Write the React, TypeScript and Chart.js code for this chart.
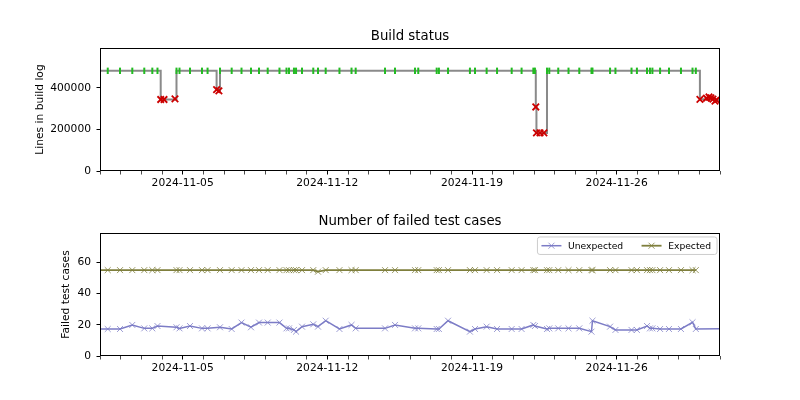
import React, { useEffect, useRef } from 'react';
import { Chart, registerables } from 'chart.js';

Chart.register(...registerables);

// ---------- data ----------
const buildTimes = [
  '2024-10-31T15:00', '2024-11-01T09:00', '2024-11-01T23:15', '2024-11-02T13:30', '2024-11-03T03:25',
  '2024-11-03T12:45', '2024-11-03T18:45', '2024-11-03T22:30', '2024-11-04T02:20', '2024-11-04T15:05',
  '2024-11-04T16:50', '2024-11-04T20:20', '2024-11-05T08:30', '2024-11-05T22:25', '2024-11-06T04:55',
  '2024-11-06T15:25', '2024-11-06T18:05', '2024-11-06T19:20', '2024-11-07T08:55', '2024-11-07T20:20',
  '2024-11-08T07:20', '2024-11-08T16:40', '2024-11-09T02:45', '2024-11-09T16:25', '2024-11-10T00:35',
  '2024-11-10T03:30', '2024-11-10T09:15', '2024-11-10T11:40', '2024-11-10T18:35', '2024-11-11T07:40',
  '2024-11-11T13:10', '2024-11-11T22:05', '2024-11-12T14:05', '2024-11-13T04:05', '2024-11-13T08:55',
  '2024-11-14T19:00', '2024-11-15T06:35', '2024-11-16T05:50', '2024-11-16T09:35', '2024-11-17T07:00',
  '2024-11-17T09:35', '2024-11-17T20:10', '2024-11-18T21:35', '2024-11-19T03:30', '2024-11-19T17:00',
  '2024-11-20T05:05', '2024-11-20T22:05', '2024-11-21T09:35', '2024-11-21T23:15', '2024-11-22T01:05',
  '2024-11-22T02:05', '2024-11-22T02:50', '2024-11-22T07:00', '2024-11-22T11:30', '2024-11-22T15:05',
  '2024-11-22T17:45', '2024-11-23T04:10', '2024-11-23T16:05', '2024-11-24T04:35', '2024-11-24T18:45',
  '2024-11-24T19:55', '2024-11-25T16:20', '2024-11-25T22:35', '2024-11-26T17:15', '2024-11-26T23:30',
  '2024-11-27T11:15', '2024-11-27T14:40', '2024-11-27T17:30', '2024-11-28T02:25', '2024-11-28T12:45',
  '2024-11-29T02:40', '2024-11-29T16:05', '2024-11-29T19:55', '2024-11-30T00:40', '2024-11-30T08:15',
  '2024-11-30T11:15', '2024-11-30T13:30', '2024-11-30T15:50', '2024-11-30T18:10', '2024-11-30T19:55',
  '2024-12-01T06:00', '2024-12-02T06:00',
];

const buildStatus = [
  'ok', 'ok', 'ok', 'ok', 'ok', 'ok', 'ok', 'fail', 'fail', 'fail',
  'ok', 'ok', 'ok', 'ok', 'ok', 'fail', 'fail', 'ok', 'ok', 'ok',
  'ok', 'ok', 'ok', 'ok', 'ok', 'ok', 'ok', 'ok', 'ok', 'ok',
  'ok', 'ok', 'ok', 'ok', 'ok', 'ok', 'ok', 'ok', 'ok', 'ok',
  'ok', 'ok', 'ok', 'ok', 'ok', 'ok', 'ok', 'ok', 'ok', 'ok',
  'fail', 'fail', 'fail', 'fail', 'ok', 'ok', 'ok', 'ok', 'ok', 'ok',
  'ok', 'ok', 'ok', 'ok', 'ok', 'ok', 'ok', 'ok', 'ok', 'ok',
  'ok', 'ok', 'ok', 'fail', 'fail', 'fail', 'fail', 'fail', 'fail', 'fail',
  'fail', 'ok',
];

const buildLines = [
  482000, 482000, 482000, 482000, 482000, 482000, 482000, 344000, 344000, 347000,
  482000, 482000, 482000, 482000, 482000, 392000, 386000, 482000, 482000, 482000,
  482000, 482000, 482000, 482000, 482000, 482000, 482000, 482000, 482000, 482000,
  482000, 482000, 482000, 482000, 482000, 482000, 482000, 482000, 482000, 482000,
  482000, 482000, 482000, 482000, 482000, 482000, 482000, 482000, 482000, 482000,
  308000, 183000, 183000, 183000, 482000, 482000, 482000, 482000, 482000, 482000,
  482000, 482000, 482000, 482000, 482000, 482000, 482000, 482000, 482000, 482000,
  482000, 482000, 482000, 345000, 350000, 356000, 352000, 346000, 336000, 342000,
  339000, 482000,
];

const unexpectedFailures = [
  17.3, 17.3, 17.3, 19.9, 17.7, 17.7, 19.2, null, null, null,
  18.4, 17.7, 19.2, 17.7, 17.7, null, null, 18.4, 17.3, 21.4,
  18.4, 21.4, 21.4, 21.4, 17.7, 17.7, 16.7, 15.6, 18.8, 20.3,
  18.8, 22.6, 17.3, 19.9, 17.7, 17.7, 19.9, 17.7, 17.7, 17.3,
  17.3, 22.6, 15.6, 17.3, 18.8, 17.3, 17.3, 17.3, 19.9, 19.2,
  null, null, null, null, 17.3, 17.7, 17.7, 17.7, 17.7, 15.6,
  22.6, 18.8, 16.7, 16.7, 16.7, 19.2, 17.7, 17.7, 17.3, 17.3,
  17.3, 21.6, 17.3, null, null, null, null, null, null, null,
  null, 17.7,
];

const expectedFailures = [
  55, 55, 55, 55, 55, 55, 55, null, null, null,
  55, 55, 55, 55, 55, null, null, 55, 55, 55,
  55, 55, 55, 55, 55, 55, 55, 55, 55, 55,
  54, 55, 55, 55, 55, 55, 55, 55, 55, 55,
  55, 55, 55, 55, 55, 55, 55, 55, 55, 55,
  null, null, null, null, 55, 55, 55, 55, 55, 55,
  55, 55, 55, 55, 55, 55, 55, 55, 55, 55,
  55, 55, 55, null, null, null, null, null, null, null,
  null, null,
];

const xRange = ['2024-11-01T00:00', '2024-12-01T00:00'];
const majorTickLabels = ['2024-11-05', '2024-11-12', '2024-11-19', '2024-11-26'];
const buildAxisTicks = [0, 200000, 400000];
const testAxisTicks = [0, 20, 40, 60];
const buildAxisMax = 592000;
const testAxisMax = 78.8;

// ---------- helpers ----------
const FONT = 'DejaVu Sans';
const xMin = Date.parse(xRange[0]);
const xMax = Date.parse(xRange[1]);

const fmtDate = (v: number) => {
  const d = new Date(v);
  const mm = String(d.getMonth() + 1).padStart(2, '0');
  const dd = String(d.getDate()).padStart(2, '0');
  return `${d.getFullYear()}-${mm}-${dd}`;
};

const dayTicks: number[] = (() => {
  const out: number[] = [];
  const s = new Date(xMin);
  for (let i = 0; ; i++) {
    const t = new Date(s.getFullYear(), s.getMonth(), s.getDate() + i).getTime();
    if (t > xMax) break;
    out.push(t);
  }
  return out;
})();
const majorSet = new Set(majorTickLabels);

const frame = {
  id: 'mplFrame',
  afterDraw(chart: any) {
    const { ctx, chartArea: a } = chart;
    ctx.save();
    ctx.strokeStyle = '#000';
    ctx.lineWidth = 1;
    ctx.strokeRect(Math.round(a.left) + 0.5, Math.round(a.top) + 0.5, Math.round(a.right - a.left) - 1, Math.round(a.bottom - a.top) - 1);
    ctx.restore();
  },
};

const mplLegend = {
  id: 'mplLegend',
  afterDraw(chart: any) {
    const { ctx, chartArea } = chart;
    const items = chart.data.datasets.map((ds: any) => ({
      label: ds.label, line: ds.borderColor, mark: ds.pointBorderColor, lw: ds.borderWidth,
    }));
    ctx.save();
    ctx.font = `9.2px "${FONT}"`;
    const padL = 4, handle = 20, gapText = 6.6, colGap = 18.4, padR = 6, h = 17.5;
    const widths = items.map((it: any) => ctx.measureText(it.label).width);
    let totalW = padL + padR + colGap * (items.length - 1);
    items.forEach((_: any, i: number) => { totalW += handle + gapText + widths[i]; });
    const x0 = chartArea.right - 3 - totalW;
    const y0 = chartArea.top + 4;
    const r = 2.5;
    ctx.beginPath();
    ctx.moveTo(x0 + r, y0);
    ctx.lineTo(x0 + totalW - r, y0);
    ctx.arcTo(x0 + totalW, y0, x0 + totalW, y0 + r, r);
    ctx.lineTo(x0 + totalW, y0 + h - r);
    ctx.arcTo(x0 + totalW, y0 + h, x0 + totalW - r, y0 + h, r);
    ctx.lineTo(x0 + r, y0 + h);
    ctx.arcTo(x0, y0 + h, x0, y0 + h - r, r);
    ctx.lineTo(x0, y0 + r);
    ctx.arcTo(x0, y0, x0 + r, y0, r);
    ctx.closePath();
    ctx.fillStyle = 'rgba(255,255,255,0.8)';
    ctx.fill();
    ctx.strokeStyle = '#cccccc';
    ctx.lineWidth = 1;
    ctx.stroke();
    let x = x0 + padL;
    const cy = y0 + h / 2;
    items.forEach((it: any, i: number) => {
      ctx.strokeStyle = it.line;
      ctx.lineWidth = it.lw;
      ctx.beginPath();
      ctx.moveTo(x, cy);
      ctx.lineTo(x + handle, cy);
      ctx.stroke();
      const mx = x + handle / 2;
      const m = 3;
      ctx.strokeStyle = it.mark;
      ctx.lineWidth = 1;
      ctx.beginPath();
      ctx.moveTo(mx - m, cy - m); ctx.lineTo(mx + m, cy + m);
      ctx.moveTo(mx - m, cy + m); ctx.lineTo(mx + m, cy - m);
      ctx.stroke();
      ctx.fillStyle = '#000';
      ctx.textBaseline = 'middle';
      ctx.textAlign = 'left';
      ctx.fillText(it.label, x + handle + gapText, cy + 0.5);
      x += handle + gapText + widths[i] + colGap;
    });
    ctx.restore();
  },
};

const xScale = (height: number) => ({
  type: 'linear',
  min: xMin,
  max: xMax,
  bounds: 'data',
  afterBuildTicks: (s: any) => { s.ticks = dayTicks.map((v) => ({ value: v })); },
  afterFit: (s: any) => { s.height = height; },
  ticks: {
    autoSkip: false,
    maxRotation: 0,
    minRotation: 0,
    padding: 2,
    color: '#000',
    font: { family: FONT, size: 10.7 },
    callback: (v: number) => (majorSet.has(fmtDate(v)) ? fmtDate(v) : ''),
  },
  grid: {
    drawOnChartArea: false,
    drawTicks: true,
    tickLength: 3.5,
    tickColor: '#000',
    tickWidth: (c: any) => (c.tick && majorSet.has(fmtDate(c.tick.value)) ? 1 : 0.7),
  },
  border: { display: false },
});

// left axis: occupies 80px after a 20px layout padding -> plot area starts at x=100
const yScale = (max: number, ticks: number[], title: string, titlePad: number) => ({
  type: 'linear',
  position: 'left',
  min: 0,
  max,
  bounds: 'data',
  afterBuildTicks: (s: any) => { s.ticks = ticks.map((v) => ({ value: v })); },
  afterFit: (s: any) => { s.width = 80; },
  ticks: {
    padding: 5.5,
    color: '#000',
    font: { family: FONT, size: 10.7 },
    callback: (v: number) => String(v),
  },
  grid: { drawOnChartArea: false, drawTicks: true, tickLength: 3.5, tickColor: '#000', tickWidth: 1 },
  border: { display: false },
  title: {
    display: true,
    text: title,
    color: '#000',
    font: { family: FONT, size: 10.7 },
    padding: { top: titlePad, bottom: 0 },
  },
});

// empty right-hand spacer axis (80px) so the title centres over the plot area
const spacerScale = (max: number) => ({
  type: 'linear',
  position: 'right',
  min: 0,
  max,
  display: true,
  afterFit: (s: any) => { s.width = 80; },
  ticks: { display: false },
  grid: { display: false },
  border: { display: false },
});

export default function App() {
  const topRef = useRef<HTMLCanvasElement>(null);
  const botRef = useRef<HTMLCanvasElement>(null);

  useEffect(() => {
    Chart.defaults.font.family = FONT;
    const isOk = (i: number) => buildStatus[i] === 'ok';
    const buildPoints = buildTimes.map((t, i) => ({ x: Date.parse(t), y: buildLines[i] }));

    const top = new Chart(topRef.current as HTMLCanvasElement, {
      type: 'line',
      data: {
        datasets: [
          {
            label: 'Build',
            data: buildPoints,
            yAxisID: 'y',
            borderColor: '#8a8a8a',
            borderWidth: 2,
            stepped: true,
            clip: 0,
            pointStyle: (c: any) => (isOk(c.dataIndex) ? 'line' : 'crossRot'),
            pointRotation: (c: any) => (isOk(c.dataIndex) ? 90 : 0),
            pointRadius: (c: any) => (isOk(c.dataIndex) ? 3.2 : 4.6),
            pointBorderWidth: (c: any) => (isOk(c.dataIndex) ? 2 : 1.8),
            pointBorderColor: (c: any) => (isOk(c.dataIndex) ? '#22bb22' : '#cc0000'),
            pointBackgroundColor: (c: any) => (isOk(c.dataIndex) ? '#22bb22' : '#cc0000'),
          } as any,
        ],
      },
      options: {
        animation: false,
        responsive: false,
        devicePixelRatio: 1,
        layout: { padding: { left: 20, right: 0, top: 0, bottom: 0 } },
        plugins: {
          legend: { display: false },
          tooltip: { enabled: false },
          title: {
            display: true,
            text: 'Build status',
            color: '#000',
            font: { family: FONT, size: 13.3, weight: 'normal' },
            padding: { top: 28.5, bottom: 3.5 },
          },
        },
        scales: {
          x: xScale(29) as any,
          y: yScale(buildAxisMax, buildAxisTicks, 'Lines in build log', 13.6) as any,
          yRight: spacerScale(buildAxisMax) as any,
        },
      },
      plugins: [frame],
    });

    const pts = (arr: (number | null)[]) =>
      buildTimes.map((t, i) => ({ x: Date.parse(t), y: arr[i] })).filter((p) => p.y !== null);

    const bot = new Chart(botRef.current as HTMLCanvasElement, {
      type: 'line',
      data: {
        datasets: [
          {
            label: 'Unexpected',
            data: pts(unexpectedFailures),
            yAxisID: 'y',
            borderColor: '#7c7cc6',
            borderWidth: 1.5,
            clip: 0,
            pointStyle: 'crossRot',
            pointRadius: 4.2,
            pointBorderWidth: 1,
            pointBorderColor: 'rgba(124,124,198,0.75)',
            pointBackgroundColor: 'rgba(124,124,198,0.75)',
          } as any,
          {
            label: 'Expected',
            data: pts(expectedFailures),
            yAxisID: 'y',
            borderColor: '#7f7f3d',
            borderWidth: 1.8,
            clip: 0,
            pointStyle: 'crossRot',
            pointRadius: 4.2,
            pointBorderWidth: 1,
            pointBorderColor: 'rgba(127,127,61,0.8)',
            pointBackgroundColor: 'rgba(127,127,61,0.8)',
          } as any,
        ],
      },
      options: {
        animation: false,
        responsive: false,
        devicePixelRatio: 1,
        layout: { padding: { left: 20, right: 0, top: 0, bottom: 0 } },
        plugins: {
          legend: { display: false },
          tooltip: { enabled: false },
          title: {
            display: true,
            text: 'Number of failed test cases',
            color: '#000',
            font: { family: FONT, size: 13.3, weight: 'normal' },
            padding: { top: 14, bottom: 3 },
          },
        },
        scales: {
          x: xScale(44) as any,
          y: yScale(testAxisMax, testAxisTicks, 'Failed test cases', 40.3) as any,
          yRight: spacerScale(testAxisMax) as any,
        },
      },
      plugins: [frame, mplLegend],
    });

    return () => {
      top.destroy();
      bot.destroy();
    };
  }, []);

  return (
    <div style={{ position: 'fixed', left: 0, top: 0, width: 800, height: 400, background: '#fff' }}>
      <canvas ref={topRef} width={800} height={200} style={{ display: 'block', width: 800, height: 200 }} />
      <canvas ref={botRef} width={800} height={200} style={{ display: 'block', width: 800, height: 200 }} />
    </div>
  );
}
